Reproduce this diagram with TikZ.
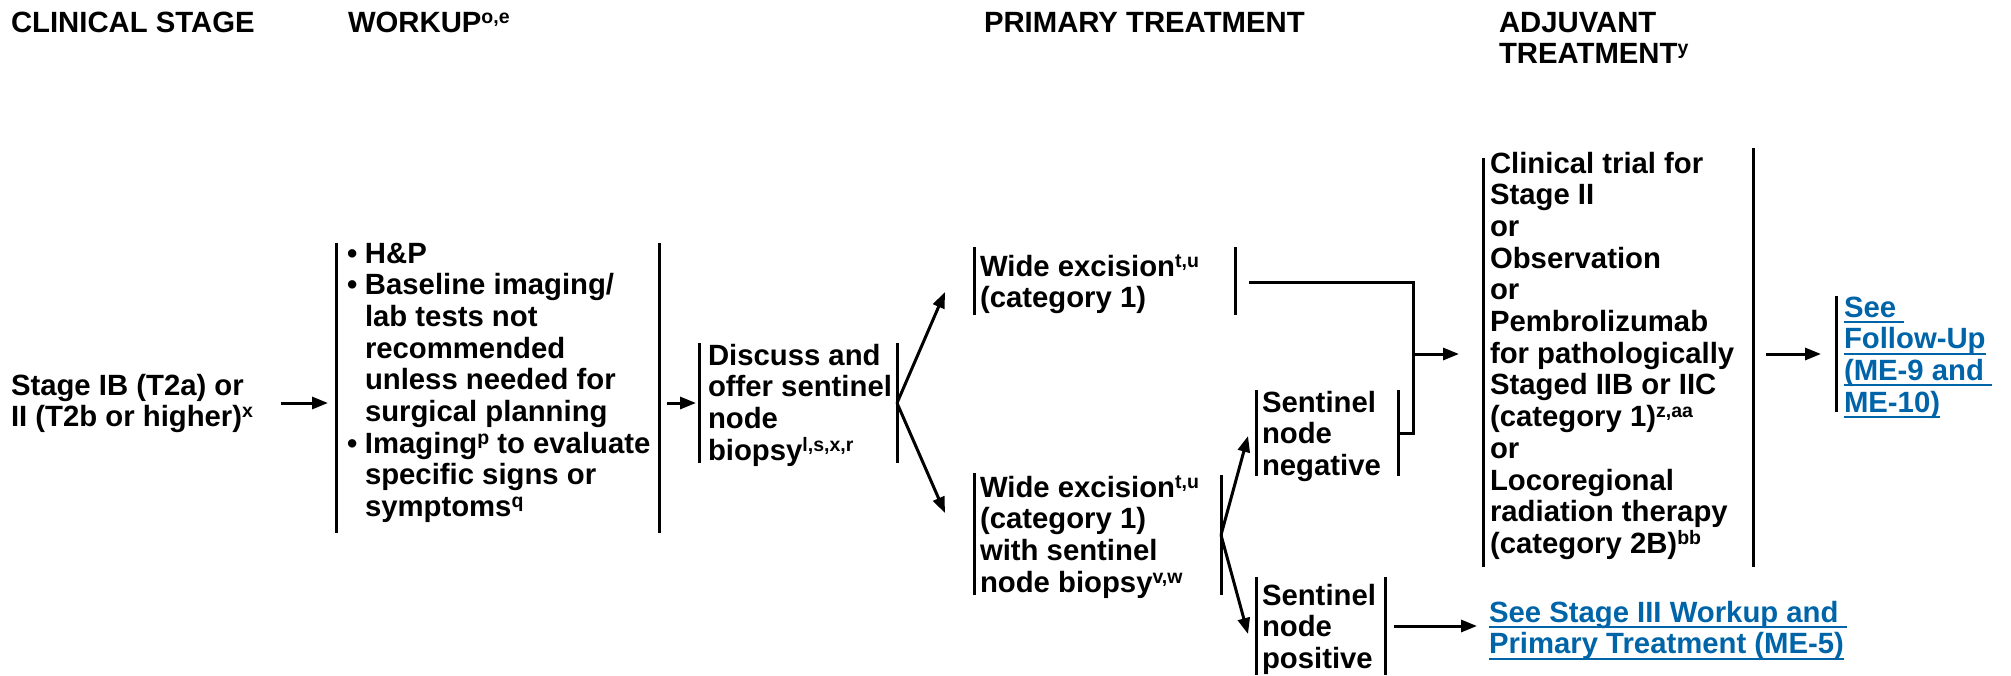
\documentclass[tikz,border=0pt]{standalone}
\usepackage{fontspec}
\setmainfont{Liberation Sans}
\usetikzlibrary{arrows.meta}
\definecolor{linkblue}{RGB}{0,100,168}
\newcommand\sups[1]{\raisebox{9pt}{\fontsize{19.5}{19.5}\selectfont #1}}
\newcommand\fl{\rule{0pt}{24pt}}
\newcommand\ulk[1]{\setbox0=\hbox{#1}\rlap{\rule[-6pt]{\wd0}{2pt}}\box0}
\newcommand\bul{\makebox[18pt][l]{\textbullet}}
\newcommand\ind{\hspace*{18pt}}
\tikzset{
  txt/.style={font=\bfseries\fontsize{29.3}{31.7}\selectfont, inner sep=0pt, outer sep=0pt, anchor=north west, align=left},
  hdr/.style={txt},
  lnk/.style={txt, text=linkblue},
  ln/.style={line width=3pt},
  arr/.style={line width=3pt, -{Triangle[length=16pt,width=12pt]}},
}
\begin{document}
\begin{tikzpicture}[x=1pt,y=-1pt]
\useasboundingbox (0,0) rectangle (2011,675);
% headers (y = first baseline - 24)
\node[hdr] (h1) at (11,8) {\fl CLINICAL STAGE};
\node[hdr] (h2) at (348,8) {\fl WORKUP\sups{o,e}};
\node[hdr] (h3) at (984,8) {\fl PRIMARY TREATMENT};
\node[hdr] (h4) at (1499,8) {\fl ADJUVANT\\TREATMENT\sups{y}};
% stage
\node[txt] (stage) at (11,371) {\fl Stage IB (T2a) or\\II (T2b or higher)\sups{x}};
% workup
\node[txt] (wk) at (347,239) {\fl\bul H\&P\\\bul Baseline imaging/\\\ind lab tests not\\\ind recommended\\\ind unless needed for\\\ind surgical planning\\\bul Imaging\sups{p} to evaluate\\\ind specific signs or\\\ind symptoms\sups{q}};
\coordinate (wkL1) at (336,243); \coordinate (wkL2) at (336,533);
\coordinate (wkR1) at (659,243); \coordinate (wkR2) at (659,533);
% discuss
\node[txt] (ds) at (708,341) {\fl Discuss and\\offer sentinel\\node\\biopsy\sups{l,s,x,r}};
\coordinate (dsL1) at (699,343); \coordinate (dsL2) at (699,463);
\coordinate (dsR1) at (897,343); \coordinate (dsR2) at (897,463);
% wide excision 1
\node[txt] (we1) at (980,252) {\fl Wide excision\sups{t,u}\\(category 1)};
\coordinate (we1L1) at (974,247); \coordinate (we1L2) at (974,315);
\coordinate (we1R1) at (1235,247); \coordinate (we1R2) at (1235,315);
% wide excision 2
\node[txt] (we2) at (980,473) {\fl Wide excision\sups{t,u}\\(category 1)\\with sentinel\\node biopsy\sups{v,w}};
\coordinate (we2L1) at (974,473); \coordinate (we2L2) at (974,595);
\coordinate (we2R1) at (1221,475); \coordinate (we2R2) at (1221,595);
% sentinel negative
\node[txt] (sn) at (1262,388) {\fl Sentinel\\node\\negative};
\coordinate (snL1) at (1256,390); \coordinate (snL2) at (1256,476);
\coordinate (snR1) at (1398,390); \coordinate (snR2) at (1398,476);
% sentinel positive
\node[txt] (sp) at (1262,581) {\fl Sentinel\\node\\positive};
\coordinate (spL1) at (1256,577); \coordinate (spL2) at (1256,675);
\coordinate (spR1) at (1385,577); \coordinate (spR2) at (1385,675);
% adjuvant
\node[txt] (adj) at (1490,149) {\fl Clinical trial for\\Stage II\\or\\Observation\\or\\Pembrolizumab\\for pathologically\\Staged IIB or IIC\\(category 1)\sups{z,aa}\\or\\Locoregional\\radiation therapy\\(category 2B)\sups{bb}};
\coordinate (adjL1) at (1483,158); \coordinate (adjL2) at (1483,567);
\coordinate (adjR1) at (1753,148); \coordinate (adjR2) at (1753,567);
% follow-up link
\node[lnk] (fu) at (1844,293) {\fl\ulk{See\ }\\\ulk{Follow-Up}\\\ulk{(ME-9 and\ }\\\ulk{ME-10)}};
\coordinate (fuL1) at (1836,296); \coordinate (fuL2) at (1836,412);
% stage III link
\node[lnk] (me5) at (1489,598) {\fl\ulk{See Stage III Workup and\ }\\\ulk{Primary Treatment (ME-5)}};
% bracket lines
\foreach \a/\b in {wkL1/wkL2,wkR1/wkR2,dsL1/dsL2,dsR1/dsR2,we1L1/we1L2,we1R1/we1R2,we2L1/we2L2,we2R1/we2R2,snL1/snL2,snR1/snR2,spL1/spL2,spR1/spR2,adjL1/adjL2,adjR1/adjR2,fuL1/fuL2}
  \draw[ln] (\a) -- (\b);
% connector points
\coordinate (a1s) at (281,403); \coordinate (a1e) at (328,403);
\coordinate (a2s) at (667,403); \coordinate (a2e) at (696,403);
\coordinate (f1) at (897,403); \coordinate (f1u) at (945,292); \coordinate (f1d) at (945,513);
\coordinate (f2) at (1221,535); \coordinate (f2u) at (1248,436); \coordinate (f2d) at (1248,634);
\coordinate (j1) at (1249,282); \coordinate (j2) at (1413,282); \coordinate (j3) at (1413,433); \coordinate (j4) at (1398,433);
\coordinate (a3s) at (1413,354); \coordinate (a3e) at (1459,354);
\coordinate (a4s) at (1766,354); \coordinate (a4e) at (1821,354);
\coordinate (a5s) at (1394,626); \coordinate (a5e) at (1477,626);
% connectors
\draw[arr] (a1s) -- (a1e);
\draw[arr] (a2s) -- (a2e);
\draw[arr] (f1) -- (f1u);
\draw[arr] (f1) -- (f1d);
\draw[arr] (f2) -- (f2u);
\draw[arr] (f2) -- (f2d);
\draw[ln] (j1) -- (j2) -- (j3) -- (j4);
\draw[arr] (a3s) -- (a3e);
\draw[arr] (a4s) -- (a4e);
\draw[arr] (a5s) -- (a5e);
\end{tikzpicture}
\end{document}
